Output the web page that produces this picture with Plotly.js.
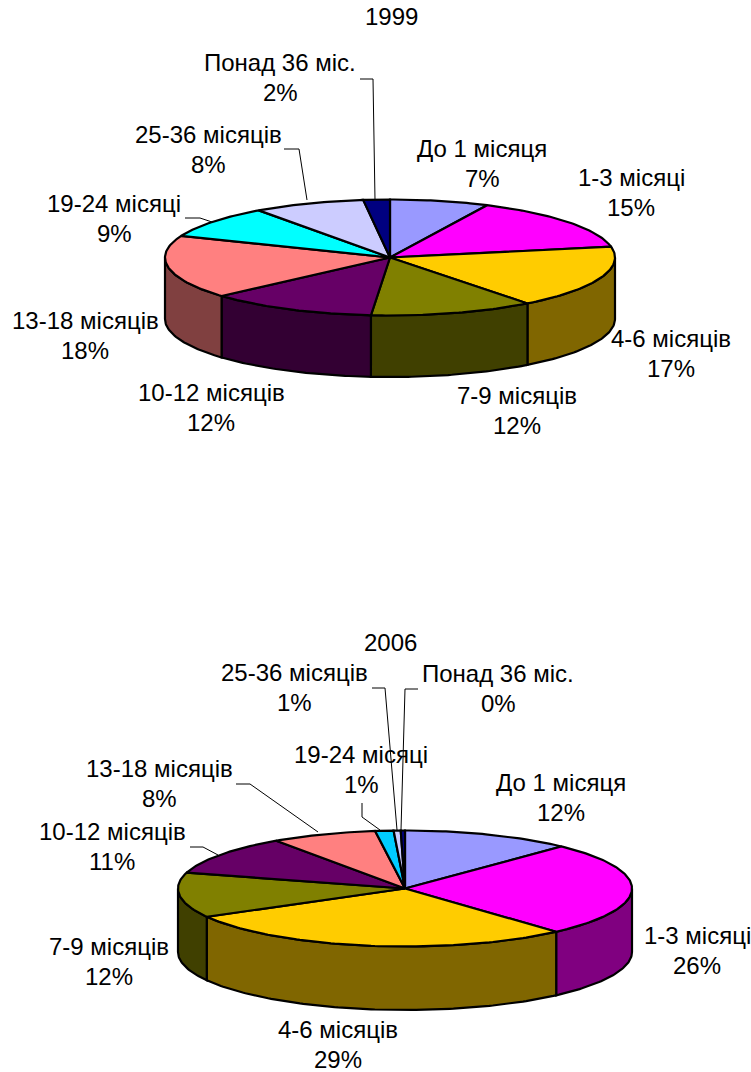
<!DOCTYPE html>
<html><head><meta charset="utf-8">
<script src="https://cdn.plot.ly/plotly-3.0.1.min.js"></script>
<style>html,body{margin:0;padding:0;background:#fff;overflow:hidden}</style>
</head><body><div id="chart" style="width:751px;height:1072px"></div>
<script>
// Categories and values
const categories1999 = ["До 1 місяця","1-3 місяці","4-6 місяців","7-9 місяців","10-12 місяців","13-18 місяців","19-24 місяці","25-36 місяців","Понад 36 міс."];
const categories2006 = categories1999;
const values1999 = [7.1,14.9,17.5,11.8,12.1,17.6,9,8,1.9];
const values2006 = [12.1,26.3,28.5,12.5,11,7.5,1.3,0.5,0.3];
const percent1999 = [7,15,17,12,12,18,9,8,2];
const percent2006 = [12,26,29,12,11,8,1,1,0];
const colors1999 = ["#9999FF","#FF00FF","#FFCC00","#808000","#660066","#FF8080","#00FFFF","#CCCCFF","#000080"];
const colors2006 = ["#9999FF","#FF00FF","#FFCC00","#808000","#660066","#FF8080","#00CCFF","#CCCCFF","#000080"];
const sideColors1999 = ["#4C4C80","#800080","#806600","#404000","#330033","#804040","#008080","#666680","#000040"];
const sideColors2006 = ["#4C4C80","#800080","#806600","#404000","#330033","#804040","#006680","#666680","#000040"];
// Label centres
const labelPos1999 = [[482,163.5],[631,192.5],[671,353.5],[517,410.5],[211,407.5],[85,335.5],[114,218.5],[208,149.5],[280,77.5]];
const labelPos2006 = [[561,797.5],[697,950.5],[338,1044],[109,961.5],[112,846.5],[159,783.5],[361,769.5],[294,687.5],[498,688.5]];
const leaders1999 = [
  [[185,218],[200,218],[212,222]],
  [[284,149],[299,149],[307,200]],
  [[360,79],[373,79],[375,200]]
];
const leaders2006 = [
  [[190,847],[203,847],[218,855]],
  [[236,784],[250,784],[318,832]],
  [[362,803],[362,817],[380,830]],
  [[372,688],[385,688],[397,830]],
  [[418,689],[405,689],[401,830]]
];
const FONT = {family:"Liberation Sans, Arial, sans-serif", size:24, color:"#000"};
const LW = 2.2;
const LINE_GAP = 15;

const traces = [], annotations = [];

function pie3d(cfg){
  const {cx,cy,rx,ry,depth,values,colors,sideColors} = cfg;
  const total = values.reduce((a,b)=>a+b,0);
  const px = a => cx + rx*Math.sin(a), py = a => cy - ry*Math.cos(a);
  let acc = 0;
  const spans = values.map(v=>{const a0=acc/total*2*Math.PI; acc+=v; return [a0,acc/total*2*Math.PI];});
  spans.forEach(([a0,a1],i)=>{
    const s=Math.max(a0,Math.PI/2), e=Math.min(a1,1.5*Math.PI);
    if(e<=s) return;
    const n=Math.max(2,Math.ceil((e-s)*60));
    const xs=[],ys=[];
    for(let k=0;k<=n;k++){const a=s+(e-s)*k/n; xs.push(px(a)); ys.push(py(a));}
    for(let k=n;k>=0;k--){const a=s+(e-s)*k/n; xs.push(px(a)); ys.push(py(a)+depth);}
    xs.push(xs[0]); ys.push(ys[0]);
    traces.push({type:"scatter",mode:"lines",x:xs,y:ys,fill:"toself",fillcolor:sideColors[i],
      line:{color:"#000",width:LW,shape:"linear"},hoverinfo:"skip",showlegend:false});
  });
  spans.forEach(([a0,a1],i)=>{
    const n=Math.max(2,Math.ceil((a1-a0)*60));
    const xs=[cx],ys=[cy];
    for(let k=0;k<=n;k++){const a=a0+(a1-a0)*k/n; xs.push(px(a)); ys.push(py(a));}
    xs.push(cx); ys.push(cy);
    traces.push({type:"scatter",mode:"lines",x:xs,y:ys,fill:"toself",fillcolor:colors[i],
      line:{color:"#000",width:LW},hoverinfo:"skip",showlegend:false});
  });
}

function addText(x,y,text){
  annotations.push({x,y,xref:"x",yref:"y",text,showarrow:false,font:FONT,align:"center",xanchor:"center",yanchor:"middle"});
}
function labels(cats,pct,pos){
  cats.forEach((c,i)=>{
    addText(pos[i][0],pos[i][1]-LINE_GAP,c);
    addText(pos[i][0],pos[i][1]+LINE_GAP,pct[i]+"%");
  });
}
function leaderLines(list){
  list.forEach(l=>traces.push({type:"scatter",mode:"lines",x:l.map(p=>p[0]),y:l.map(p=>p[1]),
    line:{color:"#000",width:1},hoverinfo:"skip",showlegend:false}));
}

pie3d({cx:390,cy:257.5,rx:225,ry:58,depth:61.5,values:values1999,colors:colors1999,sideColors:sideColors1999});
pie3d({cx:405,cy:888.5,rx:227,ry:58,depth:63.5,values:values2006,colors:colors2006,sideColors:sideColors2006});
leaderLines(leaders1999);
leaderLines(leaders2006);
labels(categories1999,percent1999,labelPos1999);
labels(categories2006,percent2006,labelPos2006);
addText(391,16.5,"1999");
addText(390,642.5,"2006");

Plotly.newPlot("chart",traces,{
  width:751,height:1072,margin:{l:0,r:0,t:0,b:0},
  paper_bgcolor:"#fff",plot_bgcolor:"#fff",showlegend:false,
  xaxis:{range:[0,751],visible:false,fixedrange:true},
  yaxis:{range:[1072,0],visible:false,fixedrange:true},
  annotations
},{displayModeBar:false,staticPlot:true});
</script></body></html>
